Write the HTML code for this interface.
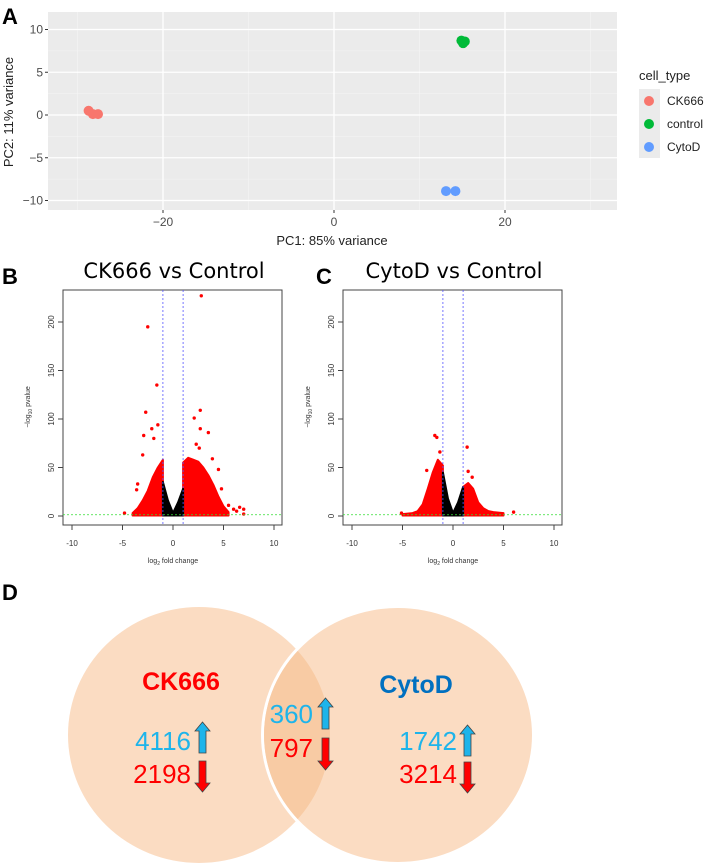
<!DOCTYPE html>
<html><head><meta charset="utf-8"><style>
body{margin:0;background:#fff}
svg{display:block;font-family:"Liberation Sans",sans-serif}
</style></head><body>
<svg width="712" height="867" viewBox="0 0 712 867">
<text x="2" y="24" font-size="22" font-weight="bold">A</text>
<g id="pca"></g>
<g id="legend">
<text x="639" y="80" font-size="13" fill="#222">cell_type</text>
<rect x="639" y="89" width="21" height="69" fill="#ebebeb"/>
</g>
<text x="2" y="284" font-size="22" font-weight="bold">B</text>
<text x="316" y="284" font-size="22" font-weight="bold">C</text>
<g id="volB"></g>
<g id="volC"></g>
<text x="2" y="600" font-size="22" font-weight="bold">D</text>
<g>
<defs><clipPath id="clipL"><ellipse cx="199" cy="735" rx="131" ry="128"/></clipPath></defs>
<ellipse cx="199" cy="735" rx="131" ry="128" fill="#fbdcc2"/>
<ellipse cx="398" cy="735" rx="137" ry="130" fill="#fff"/>
<ellipse cx="398" cy="735" rx="134" ry="127" fill="#fbdcc2"/>
<ellipse cx="398" cy="735" rx="134" ry="127" fill="#f8cba4" clip-path="url(#clipL)"/>
<text x="181" y="690" font-size="25" font-weight="bold" fill="#ff0000" text-anchor="middle">CK666</text>
<text x="416" y="693" font-size="25" font-weight="bold" fill="#0070c0" text-anchor="middle">CytoD</text>
<g font-size="26">
<text x="191" y="750" fill="#1eb4ea" text-anchor="end">4116</text>
<text x="191" y="783" fill="#ff0000" text-anchor="end">2198</text>
<text x="313" y="723" fill="#1eb4ea" text-anchor="end">360</text>
<text x="313" y="757" fill="#ff0000" text-anchor="end">797</text>
<text x="457" y="750" fill="#1eb4ea" text-anchor="end">1742</text>
<text x="457" y="783" fill="#ff0000" text-anchor="end">3214</text>
</g>
<g stroke="#444" stroke-width="0.8">
<path d="M199,753 v-22 h-4 l7.5,-9 l7.5,9 h-4 v22z" fill="#1eb4ea"/>
<path d="M199,761 v22 h-4 l7.5,9 l7.5,-9 h-4 v-22z" fill="#ff0000"/>
<path d="M322,729 v-22 h-4 l7.5,-9 l7.5,9 h-4 v22z" fill="#1eb4ea"/>
<path d="M322,738 v23 h-4 l7.5,9 l7.5,-9 h-4 v-23z" fill="#ff0000"/>
<path d="M464,756 v-22 h-4 l7.5,-9 l7.5,9 h-4 v22z" fill="#1eb4ea"/>
<path d="M464,762 v22 h-4 l7.5,9 l7.5,-9 h-4 v-22z" fill="#ff0000"/>
</g>
</g>
</svg>
<script>
const NS='http://www.w3.org/2000/svg';
function mk(p,t,a){const e=document.createElementNS(NS,t);for(const k in a)e.setAttribute(k,a[k]);p.appendChild(e);return e;}
// ---------- PCA data ----------
const pcaGroups=['CK666','control','CytoD'];
const pcaColors=['#f8766d','#00ba38','#619cff'];
const pcaCK666=[[-28.7,0.5],[-28.2,0.1],[-27.6,0.1]];
const pcaControl=[[14.9,8.7],[15.3,8.6],[15.1,8.4]];
const pcaCytoD=[[13.1,-8.9],[14.2,-8.9]];
const pcaXTicks=[-20,0,20];
const pcaYTicks=[-10,-5,0,5,10];
// ---------- Volcano data ----------
const volXTicks=[-10,-5,0,5,10];
const volYTicks=[0,50,100,150,200];
const bLeftRed=[[-4,3],[-3.5,8],[-3,16],[-2.5,26],[-2,40],[-1.5,50],[-1,58]];
const bBlack=[[-1,35],[-0.5,16],[0,3],[0.5,14],[1,28]];
const bRightRed=[[1,55],[1.5,60],[2,58],[2.5,56],[3,50],[3.5,42],[4,32],[4.5,20],[5,10],[5.5,4]];
const bOutliers=[[-2.5,195],[-1.6,135],[-2.7,107],[-1.5,94],[-2.9,83],[-3,63],[-3.5,33],[-3.6,27],[-4.8,3],[2.8,227],[2.7,109],[2.1,101],[2.7,90],[3.5,86],[2.3,74],[2.6,70],[3.9,59],[4.5,48],[5.5,11],[6,7],[6.6,9],[7,7],[7,2],[6.3,5],[4.8,28],[-1.9,80],[-2.1,90]];
const cLeftRed=[[-5,2],[-4,3],[-3.5,5],[-3,12],[-2.5,28],[-2,45],[-1.5,58],[-1,52]];
const cBlack=[[-1,45],[-0.5,18],[0,3],[0.5,14],[1,30]];
const cRightRed=[[1,30],[1.5,34],[2,28],[2.5,14],[3,8],[3.5,5],[4,4],[5,3]];
const cOutliers=[[-1.8,83],[-1.6,81],[-1.3,66],[-2.6,47],[1.4,71],[1.5,46],[1.9,40],[6,4],[-5.1,3]];

// PCA
(function(){
 const g=document.getElementById('pca');
 const X=v=>334+v*8.55, Y=v=>115-v*8.55;
 mk(g,'rect',{x:48,y:12,width:569,height:198,fill:'#ebebeb'});
 [-30,-10,10,30].forEach(v=>mk(g,'line',{x1:X(v),x2:X(v),y1:12,y2:210,stroke:'#f5f5f5','stroke-width':0.6}));
 [-7.5,-2.5,2.5,7.5].forEach(v=>mk(g,'line',{x1:48,x2:617,y1:Y(v),y2:Y(v),stroke:'#f5f5f5','stroke-width':0.6}));
 pcaXTicks.forEach(v=>{mk(g,'line',{x1:X(v),x2:X(v),y1:12,y2:210,stroke:'#fff','stroke-width':1.3});
  mk(g,'line',{x1:X(v),x2:X(v),y1:210,y2:213,stroke:'#333'});
  const t=mk(g,'text',{x:X(v),y:226,'font-size':12,fill:'#4d4d4d','text-anchor':'middle'});t.textContent=v<0?'\u2212'+(-v):v;});
 pcaYTicks.forEach(v=>{mk(g,'line',{x1:48,x2:617,y1:Y(v),y2:Y(v),stroke:'#fff','stroke-width':1.3});
  mk(g,'line',{x1:45,x2:48,y1:Y(v),y2:Y(v),stroke:'#333'});
  const t=mk(g,'text',{x:43,y:Y(v)+4,'font-size':12,fill:'#4d4d4d','text-anchor':'end'});t.textContent=v<0?'\u2212'+(-v):v;});
 const xt=mk(g,'text',{x:332,y:245,'font-size':13,fill:'#222','text-anchor':'middle'});xt.textContent='PC1: 85% variance';
 
 const yt=mk(g,'text',{x:0,y:0,'font-size':13,fill:'#222','text-anchor':'middle',transform:'translate(13,112) rotate(-90)'});yt.textContent='PC2: 11% variance';
 
 [pcaCK666,pcaControl,pcaCytoD].forEach((arr,i)=>arr.forEach(p=>{
  const c=mk(g,'circle',{cx:X(p[0]),cy:Y(p[1]),r:5,fill:pcaColors[i]});
  
  }));
 const lg=document.getElementById('legend');
 pcaGroups.forEach((n,i)=>{const y=101+i*23;
  const c=mk(lg,'circle',{cx:649,cy:y,r:5,fill:pcaColors[i]});
  
  
  const t=mk(lg,'text',{x:667,y:y+4,'font-size':12,fill:'#222'});t.textContent=n;
  
  });
})();

function volcano(id,x0,title,lr,bk,rr,outs){
 const g=document.getElementById(id);
 const X=v=>x0+(v+10)*10.1, Y=v=>516-v*0.97;
 const t=mk(g,'text',{x:X(0)+1,y:278,'font-size':21,'text-anchor':'middle',fill:'#000','font-family':'DejaVu Sans,sans-serif'});t.textContent=title;
 
 mk(g,'rect',{x:x0-9,y:290,width:219,height:235,fill:'none',stroke:'#444','stroke-width':1});
 volXTicks.forEach(v=>{mk(g,'line',{x1:X(v),x2:X(v),y1:525,y2:530,stroke:'#444'});
  const tt=mk(g,'text',{x:X(v),y:546,'font-size':8,fill:'#333','text-anchor':'middle'});tt.textContent=v;});
 volYTicks.forEach(v=>{mk(g,'line',{x1:x0-9,x2:x0-14,y1:Y(v),y2:Y(v),stroke:'#444'});
  const tt=mk(g,'text',{x:0,y:0,'font-size':8,fill:'#333','text-anchor':'middle',transform:`translate(${x0-18},${Y(v)}) rotate(-90)`});tt.textContent=v;});
 const xl=mk(g,'text',{x:X(0),y:563,'font-size':7,fill:'#333','text-anchor':'middle'});xl.innerHTML='log<tspan font-size="5" dy="2">2</tspan><tspan dy="-2"> fold change</tspan>';
 
 const yl=mk(g,'text',{x:0,y:0,'font-size':7,fill:'#333','text-anchor':'middle',transform:`translate(${x0-42},407) rotate(-90)`});yl.innerHTML='\u2212log<tspan font-size="5" dy="2">10</tspan><tspan dy="-2"> pvalue</tspan>';
 
 function area(arr,col,nm){let d='M'+X(arr[0][0])+','+Y(0.5);arr.forEach(p=>d+=' L'+X(p[0])+','+Y(p[1]));d+=' L'+X(arr[arr.length-1][0])+','+Y(0.5)+'Z';
  const a=mk(g,'path',{d:d,fill:col,stroke:col,'stroke-width':2,'stroke-linejoin':'round'});
  }
 area(lr,'#ff0000','down-regulated-cloud');area(rr,'#ff0000','up-regulated-cloud');area(bk,'#000','non-significant-cloud');
 outs.forEach(p=>{const c=mk(g,'circle',{cx:X(p[0]),cy:Y(p[1]),r:1.7,fill:'#ff0000'});
  });
 [-1,1].forEach(v=>mk(g,'line',{x1:X(v),x2:X(v),y1:290,y2:525,stroke:'#5555ff','stroke-width':0.8,'stroke-dasharray':'2,2'}));
 mk(g,'line',{x1:x0-9,x2:x0+210,y1:Y(1.3),y2:Y(1.3),stroke:'#33dd33','stroke-width':0.8,'stroke-dasharray':'2,2'});
}
volcano('volB',72,'CK666 vs Control',bLeftRed,bBlack,bRightRed,bOutliers);
volcano('volC',352,'CytoD vs Control',cLeftRed,cBlack,cRightRed,cOutliers);
</script>
</body></html>
